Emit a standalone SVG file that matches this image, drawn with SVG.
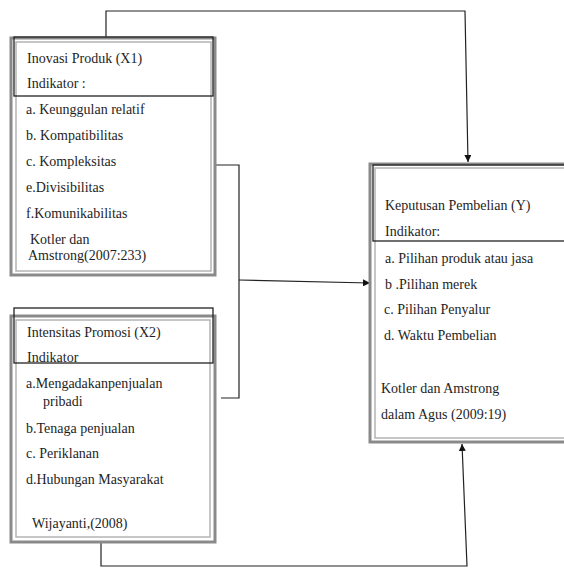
<svg xmlns="http://www.w3.org/2000/svg" width="564" height="568" viewBox="0 0 564 568">
<defs>
<style>
.outer{fill:#fff;stroke:#8a8a8a;stroke-width:3}
.inner{fill:none;stroke:#b4b4b4;stroke-width:1.5}
.hdr{fill:none;stroke:#222;stroke-width:1.3}
.t{font-family:"Liberation Serif","Times New Roman",serif;font-size:14px;fill:#1e1e1e}
.ln{fill:none;stroke:#222;stroke-width:1.2}
</style>
<marker id="ah" viewBox="0 0 10 10" refX="10" refY="5" markerWidth="7" markerHeight="7" markerUnits="userSpaceOnUse" orient="auto">
<path d="M0,0 L10,5 L0,10 z" fill="#111"/>
</marker>
</defs>
<rect width="564" height="568" fill="#fff"/>

<g id="connectors">
<polyline class="ln" points="106,37 106,11 465,11 468,162" marker-end="url(#ah)"/>
<polyline class="ln" points="215,165 239,165 239,398 221,398"/>
<line class="ln" x1="239" y1="280" x2="370" y2="283" marker-end="url(#ah)"/>
<polyline class="ln" points="101,542 101,566 467,566 462,444" marker-end="url(#ah)"/>
</g>

<g id="node-x1">
<rect class="outer" x="11" y="38" width="204" height="237"/>
<rect class="inner" x="16" y="42" width="195" height="229"/>
<rect class="hdr" x="14" y="37" width="199" height="59"/>
<text class="t" x="27" y="63">Inovasi Produk (X1)</text>
<text class="t" x="27" y="88">Indikator :</text>
<text class="t" x="26" y="114">a. Keunggulan relatif</text>
<text class="t" x="26" y="140">b. Kompatibilitas</text>
<text class="t" x="26" y="166">c. Kompleksitas</text>
<text class="t" x="26" y="192">e.Divisibilitas</text>
<text class="t" x="26" y="218">f.Komunikabilitas</text>
<text class="t" x="30" y="244">Kotler dan</text>
<text class="t" x="28" y="260">Amstrong(2007:233)</text>
</g>

<g id="node-x2">
<rect class="outer" x="11" y="316" width="204" height="226"/>
<rect class="inner" x="16" y="320" width="194" height="217"/>
<rect class="hdr" x="14" y="308" width="199" height="55"/>
<text class="t" x="27" y="337">Intensitas Promosi (X2)</text>
<text class="t" x="27" y="362">Indikator</text>
<text class="t" x="26" y="388">a.Mengadakanpenjualan</text>
<text class="t" x="43" y="406">pribadi</text>
<text class="t" x="26" y="433">b.Tenaga penjualan</text>
<text class="t" x="26" y="458">c. Periklanan</text>
<text class="t" x="26" y="484">d.Hubungan Masyarakat</text>
<text class="t" x="32" y="528">Wijayanti,(2008)</text>
</g>

<g id="node-y">
<rect class="outer" x="370" y="164" width="210" height="278"/>
<rect class="inner" x="375" y="168" width="205" height="270"/>
<rect class="hdr" x="373" y="165" width="210" height="76"/>
<text class="t" x="385" y="210">Keputusan Pembelian (Y)</text>
<text class="t" x="385" y="236">Indikator:</text>
<text class="t" x="385" y="263">a. Pilihan produk atau jasa</text>
<text class="t" x="385" y="289">b .Pilihan merek</text>
<text class="t" x="384" y="314">c. Pilihan Penyalur</text>
<text class="t" x="384" y="340">d. Waktu Pembelian</text>
<text class="t" x="381" y="393">Kotler dan Amstrong</text>
<text class="t" x="381" y="419">dalam Agus (2009:19)</text>
</g>
</svg>
